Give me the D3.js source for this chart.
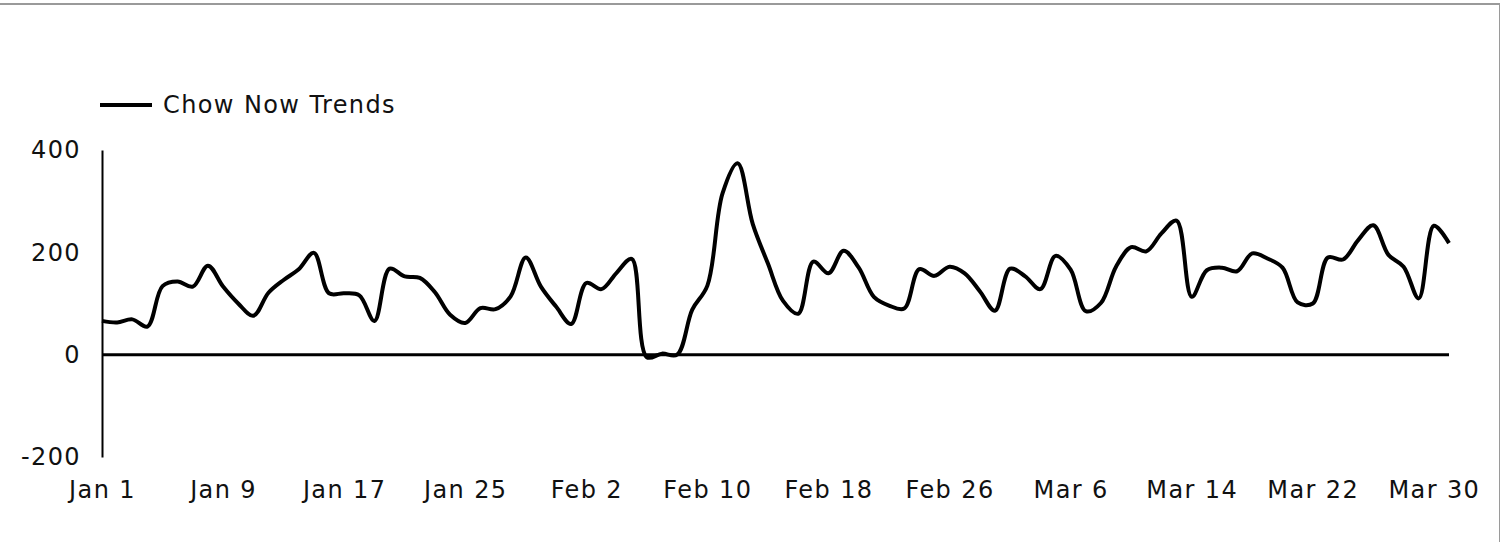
<!DOCTYPE html>
<html>
<head>
<meta charset="utf-8">
<script src="https://cdn.jsdelivr.net/npm/d3@7"></script>
<style>
  html, body { margin: 0; padding: 0; background: #fff; }
  svg { display: block; }
  text { font-family: "DejaVu Sans", "Open Sans", sans-serif; fill: #111; letter-spacing: 1.4px; }
</style>
</head>
<body>
<svg id="chart" width="1500" height="542"></svg>
<script>
// Series: daily values from Jan 1 through Mar 31
const seriesName = "Chow Now Trends";
const startDate = "2023-01-01";
const values = [
  66, 63, 69, 55, 134, 143, 133, 174, 133, 100,
  76, 121, 146, 167, 199, 120, 120, 116, 66, 168,
  153, 150, 122, 78, 62, 91, 89, 114, 190, 133,
  94, 60, 140, 128, 160, 187, -5, 2, 0, 88,
  135, 315, 374, 255, 178, 105, 80, 182, 159, 203,
  170, 113, 96, 90, 167, 154, 172, 159, 124, 86,
  168, 153, 128, 193, 166, 85, 101, 172, 210, 202,
  237, 262, 113, 165, 170, 163, 198, 188, 170, 102,
  100, 190, 186, 224, 253, 195, 172, 110, 252, 218
];
const yTicks = [-200, 0, 200, 400];
const xTickLabels = ["Jan 1", "Jan 9", "Jan 17", "Jan 25", "Feb 2", "Feb 10",
                     "Feb 18", "Feb 26", "Mar 6", "Mar 14", "Mar 22", "Mar 30"];

const parse = d3.timeParse("%Y-%m-%d");
const t0 = parse(startDate);
const dates = values.map((_, i) => d3.timeDay.offset(t0, i));
const data = dates.map((d, i) => ({ date: d, value: values[i] }));
const xTickDates = xTickLabels.map((_, i) => d3.timeDay.offset(t0, i * 8));

const svg = d3.select("#chart");

// frame edges
svg.append("line").attr("x1", 0).attr("x2", 1499).attr("y1", 4).attr("y2", 4)
  .attr("stroke", "#9a9a9a").attr("stroke-width", 2);
svg.append("line").attr("x1", 1499.5).attr("x2", 1499.5).attr("y1", 3).attr("y2", 542)
  .attr("stroke", "#9a9a9a").attr("stroke-width", 1);

const x = d3.scaleTime()
  .domain([dates[0], dates[dates.length - 1]])
  .range([102, 1449]);
const y = d3.scaleLinear().domain([-200, 400]).range([457, 150]);

// y axis
const yAxis = svg.append("g").attr("transform", "translate(102,0)")
  .call(d3.axisLeft(y).tickValues(yTicks).tickSize(0).tickPadding(21)
    .tickFormat(d => String(d)));
yAxis.select(".domain").attr("stroke", "#000").attr("stroke-width", 2);
yAxis.selectAll("text").style("font-size", "24px").style("font-family", null);

// x axis labels
const fmt = new Map(xTickDates.map((d, i) => [+d, xTickLabels[i]]));
const xAxis = svg.append("g").attr("transform", "translate(0,457)")
  .call(d3.axisBottom(x).tickValues(xTickDates).tickSize(0).tickPadding(24)
    .tickFormat(d => fmt.get(+d)));
xAxis.select(".domain").remove();
xAxis.selectAll("text").style("font-size", "24px").style("font-family", null);

// zero line
svg.append("line")
  .attr("x1", x(dates[0])).attr("x2", x(dates[dates.length - 1]))
  .attr("y1", y(0)).attr("y2", y(0))
  .attr("stroke", "#000").attr("stroke-width", 3);

// series line
const line = d3.line()
  .x(d => x(d.date))
  .y(d => y(d.value))
  .curve(d3.curveCatmullRom.alpha(0.5));
svg.append("path").datum(data)
  .attr("fill", "none").attr("stroke", "#000").attr("stroke-width", 4)
  .attr("stroke-linejoin", "round").attr("d", line);

// legend
const lg = svg.append("g").attr("transform", "translate(100,105)");
lg.append("line").attr("x1", 0).attr("x2", 52).attr("y1", 0).attr("y2", 0)
  .attr("stroke", "#000").attr("stroke-width", 4);
lg.append("text").attr("x", 63).attr("y", 0).attr("dy", "0.35em")
  .style("font-size", "24px").text(seriesName);
</script>
</body>
</html>
